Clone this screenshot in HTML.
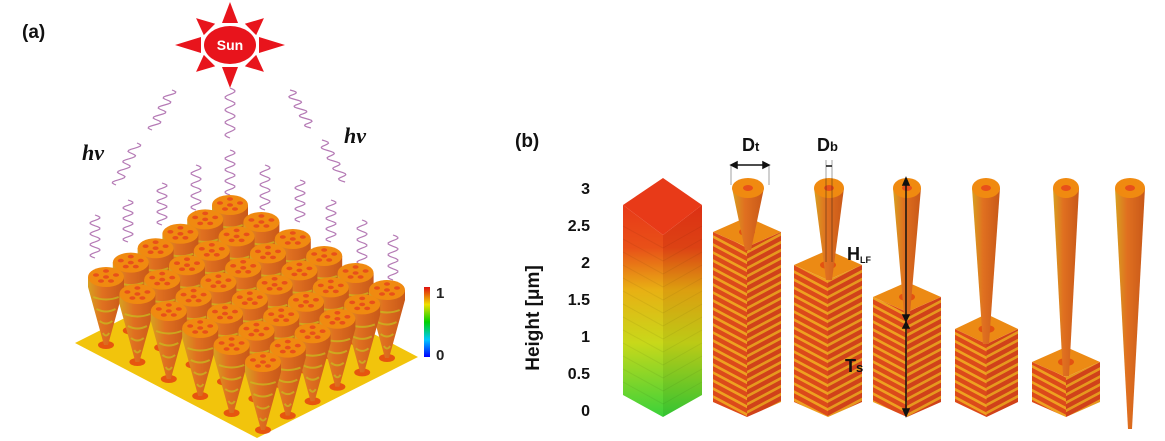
<!DOCTYPE html>
<html><head><meta charset="utf-8">
<style>
html,body{margin:0;padding:0;background:#fff;}
svg{display:block;font-family:"Liberation Sans",sans-serif;}
</style></head>
<body>
<svg id="fig" width="1165" height="441" viewBox="0 0 1165 441" xmlns="http://www.w3.org/2000/svg">
<defs>
<linearGradient id="barGrad" x1="0" y1="1" x2="0" y2="0">
<stop offset="0" stop-color="#0000ff"/><stop offset="0.25" stop-color="#00c8ff"/><stop offset="0.5" stop-color="#00d000"/><stop offset="0.75" stop-color="#f0e000"/><stop offset="1" stop-color="#e01010"/>
</linearGradient>
<linearGradient id="hbarL" x1="0" y1="1" x2="0" y2="0">
<stop offset="0" stop-color="#3ad23a"/><stop offset="0.35" stop-color="#c8d81a"/><stop offset="0.6" stop-color="#e8b014"/><stop offset="0.8" stop-color="#e85018"/><stop offset="1" stop-color="#e83a18"/>
</linearGradient>
<linearGradient id="hbarR" x1="0" y1="1" x2="0" y2="0">
<stop offset="0" stop-color="#32c432"/><stop offset="0.35" stop-color="#bcca16"/><stop offset="0.6" stop-color="#dc9e10"/><stop offset="0.8" stop-color="#dc4214"/><stop offset="1" stop-color="#dc3014"/>
</linearGradient>
<pattern id="stripesL" width="8" height="8" patternUnits="userSpaceOnUse" patternTransform="skewY(28)">
<rect width="8" height="8" fill="#dc4a1a"/><rect width="8" height="3" fill="#eea020"/>
</pattern>
<pattern id="stripesR" width="8" height="8" patternUnits="userSpaceOnUse" patternTransform="skewY(-28)">
<rect width="8" height="8" fill="#d0421a"/><rect width="8" height="3" fill="#e6981e"/>
</pattern>
<linearGradient id="coneGrad" x1="0" y1="0" x2="1" y2="0">
<stop offset="0" stop-color="#d8a020"/><stop offset="0.4" stop-color="#e07020"/><stop offset="1" stop-color="#c85818"/>
</linearGradient>
</defs>
<g id="panelA"></g>
<g id="panelB"></g>
</svg>
<script>
var NS='http://www.w3.org/2000/svg';
function mk(parent,tag,attrs){var e=document.createElementNS(NS,tag);for(var k in attrs)e.setAttribute(k,attrs[k]);parent.appendChild(e);return e;}
var A=document.getElementById('panelA'), B=document.getElementById('panelB');

// ---------- Panel (a)
var t=mk(A,'text',{x:22,y:38,'font-size':19,'font-weight':'bold',fill:'#111'});t.textContent='(a)';


var sun=mk(A,'g',{});


var cx=230,cy=45;
for(var i=0;i<8;i++){var a=i*Math.PI/4;
 var Lx=(i==0||i==4)?55:48, Ly=(i==2||i==6)?43:38;
 var tx=cx+Math.cos(a)*Lx,ty=cy+Math.sin(a)*Ly;
 var px=-Math.sin(a)*8,py=Math.cos(a)*8;var bx=cx+Math.cos(a)*29,by=cy+Math.sin(a)*22;
 mk(sun,'polygon',{points:(bx+px)+','+(by+py)+' '+(bx-px)+','+(by-py)+' '+tx+','+ty,fill:'#e8141c'});}
mk(sun,'ellipse',{cx:cx,cy:cy,rx:26,ry:19,fill:'#e8141c'});
t=mk(sun,'text',{x:cx,y:cy+5,'text-anchor':'middle','font-size':14,'font-weight':'bold',fill:'#fff'});t.textContent='Sun';
[[82,160],[344,143]].forEach(function(p){var h=mk(A,'text',{x:p[0],y:p[1],'font-size':22,'font-weight':'bold','font-style':'italic','font-family':'Liberation Serif, serif',fill:'#111'});h.textContent='hv';
 });
var waves=[[95,215,258,0],[128,200,242,0],[162,183,225,0],[196,165,210,0],[230,150,195,0],[265,165,210,0],[300,180,222,0],[331,200,242,0],[362,220,265,0],[393,235,280,0],[230,88,138,0],[172,90,130,-0.5],[137,143,185,-0.5],[290,90,128,0.55],[322,140,182,0.55]];
waves.forEach(function(w){var d='';var n=40;for(var k=0;k<=n;k++){var f=k/n;var y=w[1]+(w[2]-w[1])*f;var x=w[0]+w[3]*(y-w[1])+5*Math.sin(f*Math.PI*8);d+=(k?'L':'M')+x.toFixed(1)+','+y.toFixed(1);}
 var p=mk(A,'path',{d:d,fill:'none',stroke:'#b57ab5','stroke-width':1.2});});
var sub=mk(A,'polygon',{points:'75,343 236,262 418,357 257,438',fill:'#f2c40c'});

var bx0=230,by0=205,ix=-24.8,iy=14.4,jx=31.4,jy=17;
var order=[];for(var i=0;i<6;i++)for(var j=0;j<6;j++)order.push([i,j]);
order.sort(function(a,b){return (a[0]+a[1])-(b[0]+b[1])||a[0]-b[0];});
order.forEach(function(ij){var x=bx0+ij[0]*ix+ij[1]*jx,y=by0+ij[0]*iy+ij[1]*jy;
 var g=mk(A,'g',{});
 mk(g,'ellipse',{cx:x,cy:y+68,rx:8,ry:4,fill:'#e23a10',opacity:0.8});
 mk(g,'path',{d:'M'+(x-18)+','+y+' L'+(x-18)+','+(y+10)+' L'+(x-2)+','+(y+68)+' L'+(x+2)+','+(y+68)+' L'+(x+18)+','+(y+10)+' L'+(x+18)+','+y+' Z',fill:'url(#coneGrad)'});
 for(var s=1;s<5;s++){var yy=y+8+s*12;var w=18*(1-(s*12+8)/68);mk(g,'path',{d:'M'+(x-w)+','+yy+' Q'+x+','+(yy+5)+' '+(x+w)+','+yy,stroke:'#c8c020','stroke-width':2,fill:'none',opacity:0.7});}
 mk(g,'ellipse',{cx:x,cy:y,rx:18,ry:10,fill:'#f08a10'});
 [[-10,-2],[10,-2],[0,-6],[-5,4],[5,4],[0,0]].forEach(function(d){mk(g,'ellipse',{cx:x+d[0],cy:y+d[1],rx:3,ry:1.8,fill:'#e8501a'});});
});
var cb=mk(A,'rect',{x:424,y:287,width:6,height:70,fill:'url(#barGrad)'});
t=mk(A,'text',{x:436,y:298,'font-size':15,'font-weight':'bold',fill:'#222'});t.textContent='1';
t=mk(A,'text',{x:436,y:360,'font-size':15,'font-weight':'bold',fill:'#222'});t.textContent='0';

// ---------- Panel (b)
t=mk(B,'text',{x:515,y:147,'font-size':19,'font-weight':'bold',fill:'#111'});t.textContent='(b)';

var tickVals=['3','2.5','2','1.5','1','0.5','0'];
var tickY=[188,225,262,299,336,373,410];
tickVals.forEach(function(v,i){var e=mk(B,'text',{x:590,y:tickY[i]+6,'text-anchor':'end','font-size':16,'font-weight':'bold',fill:'#111'});e.textContent=v;
 });
t=mk(B,'text',{x:0,y:0,'font-size':19,'font-weight':'bold',fill:'#111','text-anchor':'middle',transform:'translate(539,318) rotate(-90)'});t.textContent='Height [μm]';

var hp=mk(B,'g',{});
mk(hp,'polygon',{points:'623,205 663,235 663,417 623,395',fill:'url(#hbarL)'});
mk(hp,'polygon',{points:'663,235 702,205 702,395 663,417',fill:'url(#hbarR)'});
mk(hp,'polygon',{points:'623,205 663,178 702,205 663,235',fill:'#e83a18'});
for(var k=1;k<14;k++){var yy=235+k*13;mk(hp,'line',{x1:623,y1:yy-22,x2:663,y2:yy,stroke:'#000',opacity:0.05});mk(hp,'line',{x1:663,y1:yy,x2:702,y2:yy-22,stroke:'#000',opacity:0.05});}
var S=[{l:713,r:781,top:217,cone:748,crx:16,tip:236},{l:794,r:862,top:250,cone:829,crx:15,tip:266},{l:873,r:941,top:282,cone:907,crx:14,tip:300},{l:955,r:1018,top:314,cone:986,crx:14,tip:330},{l:1032,r:1100,top:347,cone:1066,crx:13,tip:362},{l:0,r:0,top:0,cone:1130,crx:15,tip:415}];
S.forEach(function(s,idx){var g=mk(B,'g',{});
 if(s.r){var c=(s.l+s.r)/2,d=15;
  mk(g,'polygon',{points:s.l+','+(s.top+d)+' '+c+','+(s.top+2*d)+' '+c+',417 '+s.l+','+(417-d),fill:'url(#stripesL)'});
  mk(g,'polygon',{points:c+','+(s.top+2*d)+' '+s.r+','+(s.top+d)+' '+s.r+','+(417-d)+' '+c+',417',fill:'url(#stripesR)'});
  mk(g,'polygon',{points:s.l+','+(s.top+d)+' '+c+','+s.top+' '+s.r+','+(s.top+d)+' '+c+','+(s.top+2*d),fill:'#ec8a14'});
  mk(g,'ellipse',{cx:c,cy:s.top+d,rx:8,ry:4,fill:'#e03a10',opacity:0.7});}
 var x=s.cone,y=188,bw=idx==5?2:3;
 mk(g,'polygon',{points:(x-s.crx)+','+y+' '+(x-bw)+','+(s.tip+14)+' '+(x+bw)+','+(s.tip+14)+' '+(x+s.crx)+','+y,fill:'url(#coneGrad)'});
 mk(g,'ellipse',{cx:x,cy:y,rx:s.crx,ry:10,fill:'#f08a10'});
 mk(g,'ellipse',{cx:x,cy:y,rx:5,ry:3,fill:'#e8501a'});
});
var ann=mk(B,'g',{stroke:'#111','stroke-width':1.5,fill:'#111'});
mk(ann,'line',{x1:733,y1:165,x2:767,y2:165});
mk(ann,'polygon',{points:'731,165 737,162 737,168'});mk(ann,'polygon',{points:'769,165 763,162 763,168'});
mk(ann,'line',{x1:731,y1:165,x2:731,y2:185,'stroke-width':0.4});mk(ann,'line',{x1:769,y1:165,x2:769,y2:185,'stroke-width':0.4});
mk(ann,'line',{x1:826,y1:166,x2:832,y2:166});
mk(ann,'line',{x1:826,y1:160,x2:826,y2:262,'stroke-width':0.4});mk(ann,'line',{x1:832,y1:160,x2:832,y2:262,'stroke-width':0.4});
mk(ann,'line',{x1:906,y1:180,x2:906,y2:414});
mk(ann,'polygon',{points:'906,178 903,185 909,185'});mk(ann,'polygon',{points:'906,416 903,409 909,409'});
mk(ann,'polygon',{points:'906,321 903,315 909,315'});mk(ann,'polygon',{points:'906,322 903,328 909,328'});
var labs=[['D',752,151,'t'],['D',827,151,'b'],['H',857,260,'LF'],['T',855,372,'s']];
labs.forEach(function(L){var e=mk(B,'text',{x:L[1]-10,y:L[2],'font-size':18,'font-weight':'bold',fill:'#111'});
 
 e.textContent=L[0];var ts=mk(e,'tspan',{'font-size':L[3].length>1?9:13,dy:L[3].length>1?3:0});ts.textContent=L[3];});
</script>
</body></html>
